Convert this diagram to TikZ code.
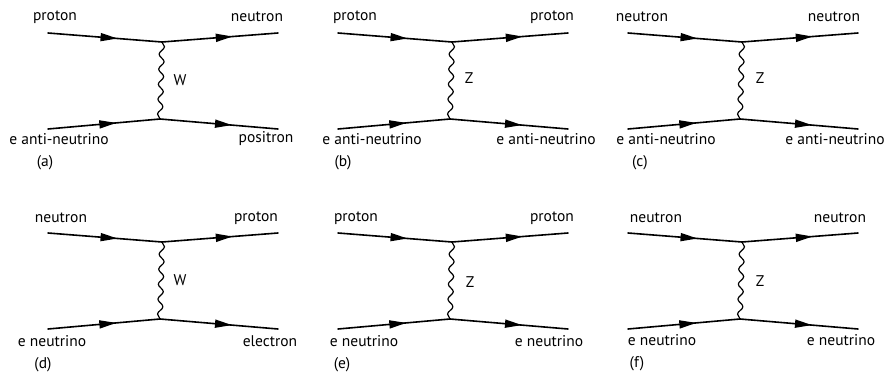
\documentclass[tikz,border=0pt]{standalone}
\usepackage{fontspec}
\setmainfont{PT Sans}
\usetikzlibrary{arrows.meta}
\usetikzlibrary{decorations.pathmorphing}
\usetikzlibrary{decorations.markings}

\tikzset{
  fermion/.style={line width=1.6pt,postaction={decorate},
    decoration={markings,mark=at position 0.61 with {\arrow{Triangle[length=17pt,width=8pt]}}}},
  boson/.style={line width=1.2pt,decorate,
    decoration={snake,amplitude=2.6pt,segment length=15pt}},
  lbl/.style={font=\fontsize{15.5}{18}\selectfont,inner sep=0pt}
}

\begin{document}
\begin{tikzpicture}[line cap=round,line join=round,x=1pt,y=-1pt]
\useasboundingbox (0,0) rectangle (895,383);

%viivat kaikille kuudelle
\foreach \p/\x/\y in {a/0/0,b/290/0,c/580/0,d/0/200,e/290/200,f/580/200}
{
\begin{scope}[shift={(\x,\y)}]
\coordinate (tl-\p) at (48,33);
\coordinate (tv-\p) at (162,42);
\coordinate (tr-\p) at (278,33);
\coordinate (bl-\p) at (48,129);
\coordinate (bv-\p) at (160,119);
\coordinate (br-\p) at (278,129);
\end{scope}
\draw[fermion] (tl-\p) -- (tv-\p);
\draw[fermion] (tv-\p) -- (tr-\p);
\draw[fermion] (bl-\p) -- (bv-\p);
\draw[fermion] (bv-\p) -- (br-\p);
\draw[boson] (tv-\p) -- (bv-\p);
}

%(a)
\node[lbl] (ta) at (55,17) {proton};
\node[lbl] (ua) at (257,17) {neutron};
\node[lbl] (la) at (59,139) {e anti-neutrino};
\node[lbl] (ra) at (266,139) {positron};
\node[lbl] (wa) at (180,80) {W};
\node[lbl] (na) at (45,163) {(a)};

%(b)
\node[lbl] (tb) at (355,17) {proton};
\node[lbl] (ub) at (552,17) {proton};
\node[lbl] (lb) at (372,139) {e anti-neutrino};
\node[lbl] (rb) at (546,139) {e anti-neutrino};
\node[lbl] (zb) at (469,78) {Z};
\node[lbl] (nb) at (343,163) {(b)};

%(c)
\node[lbl] (tc) at (642,17) {neutron};
\node[lbl] (uc) at (834,17) {neutron};
\node[lbl] (lc) at (666,139) {e anti-neutrino};
\node[lbl] (rc) at (835,139) {e anti-neutrino};
\node[lbl] (zc) at (760,78) {Z};
\node[lbl] (nc) at (640,163) {(c)};

%(d)
\node[lbl] (td) at (61,218) {neutron};
\node[lbl] (ud) at (256,218) {proton};
\node[lbl] (ld) at (52,341) {e neutrino};
\node[lbl] (rd) at (270,341) {electron};
\node[lbl] (wd) at (180,280) {W};
\node[lbl] (nd) at (43,365) {(d)};

%(e)
\node[lbl] (te) at (356,218) {proton};
\node[lbl] (ue) at (552,218) {proton};
\node[lbl] (le) at (364,341) {e neutrino};
\node[lbl] (re) at (549,341) {e neutrino};
\node[lbl] (ze) at (470,282) {Z};
\node[lbl] (ne) at (342,365) {(e)};

%(f)
\node[lbl] (tf) at (656,218) {neutron};
\node[lbl] (uf) at (840,218) {neutron};
\node[lbl] (lf) at (662,340) {e neutrino};
\node[lbl] (rf) at (841,340) {e neutrino};
\node[lbl] (zf) at (760,281) {Z};
\node[lbl] (nf) at (637,364) {(f)};
\end{tikzpicture}
\end{document}
